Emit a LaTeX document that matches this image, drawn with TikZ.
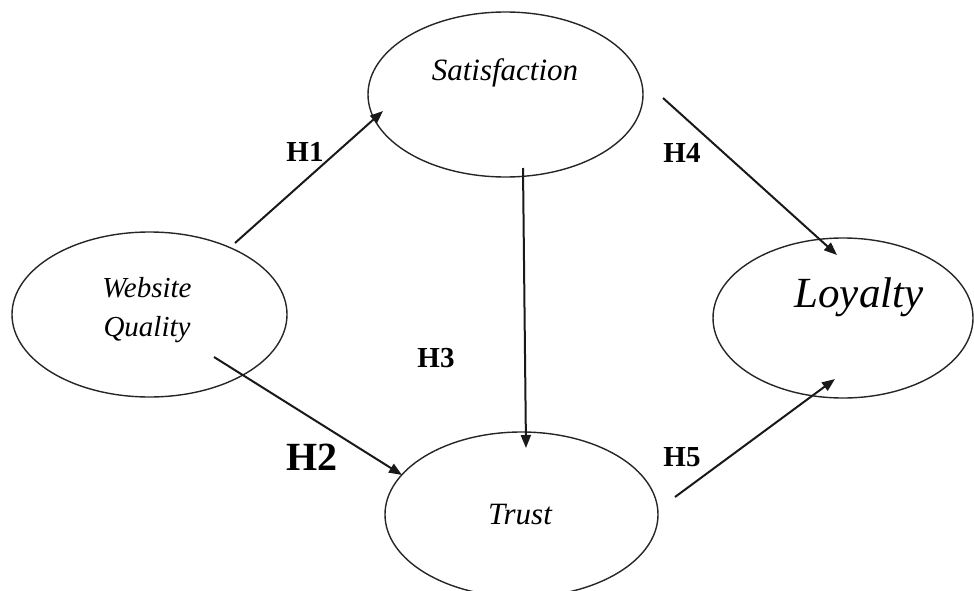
\documentclass[tikz,border=0pt]{standalone}
\usepackage{fontspec}
\setmainfont{Liberation Serif}
\usetikzlibrary{shapes.geometric,arrows.meta,calc}
\begin{document}
\begin{tikzpicture}[x=1pt,y=1pt,
  construct/.style={draw=black!85,line width=1.4pt,ellipse,inner sep=0pt},
  arr/.style={draw=black!90,line width=2pt,-{Triangle[length=13pt,width=10pt]}},
  cname/.style={anchor=base,inner sep=0pt},
  hyp/.style={font=\bfseries\fontsize{29}{29}\selectfont,anchor=base,inner sep=0pt}]
\useasboundingbox (0,0) rectangle (974,-591);
\node[construct,minimum width=275pt,minimum height=165pt] (sat) at (505.5,-94.5) {};
\node[construct,minimum width=275pt,minimum height=165pt] (wq) at (149.5,-314.5) {};
\node[construct,minimum width=273pt,minimum height=165pt] (tr) at (521.5,-514.5) {};
\node[construct,minimum width=260pt,minimum height=160pt] (loy) at (843,-318) {};
\node[cname,font=\itshape\fontsize{31}{31}\selectfont] (satT) at (505,-81) {Satisfaction};
\node[cname,font=\itshape\fontsize{29}{29}\selectfont] (wqT1) at (147,-297) {Website};
\node[cname,font=\itshape\fontsize{29}{29}\selectfont] (wqT2) at (147,-336) {Quality};
\node[cname,font=\itshape\fontsize{31}{31}\selectfont] (trT) at (520,-524) {Trust};
\node[cname,font=\itshape\fontsize{43}{43}\selectfont] (loyT) at (859,-307) {Loyalty};
\draw[arr] ($(wq.center)+(85.5,71.5)$) -- ($(sat.center)+(-122.5,-16.5)$);
\draw[arr] ($(wq.center)+(64.5,-42.5)$) -- ($(tr.center)+(-119.5,39.5)$);
\draw[arr] ($(sat.center)+(17.5,-73.5)$) -- ($(tr.center)+(4.5,66.5)$);
\draw[arr] ($(sat.center)+(157.5,-3.5)$) -- ($(loy.center)+(-6,63)$);
\draw[arr] ($(tr.center)+(153.5,17.5)$) -- ($(loy.center)+(-8,-61)$);
\node[hyp] (h1) at (305,-161) {H1};
\node[hyp,font=\bfseries\fontsize{40}{40}\selectfont] (h2) at (312,-470) {H2};
\node[hyp] (h3) at (436,-367) {H3};
\node[hyp] (h4) at (682,-162) {H4};
\node[hyp] (h5) at (682,-466) {H5};
\end{tikzpicture}
\end{document}
